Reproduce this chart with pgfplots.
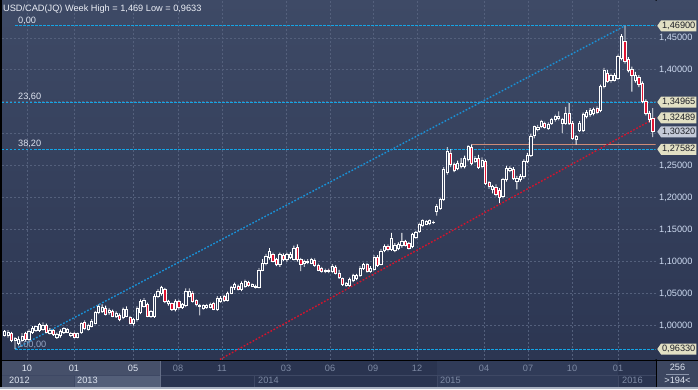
\documentclass[border=0pt]{standalone}
\usepackage{pgfplots}
\pgfplotsset{compat=1.18}
\usepackage{pgfplotstable}
\usepackage{fontspec}
\setmainfont{Liberation Sans}
\usetikzlibrary{shapes.symbols}

\definecolor{bgtop}{RGB}{62,74,102}
\definecolor{bgbot}{RGB}{44,54,82}
\definecolor{gridc}{RGB}{84,96,124}
\definecolor{fibc}{RGB}{20,165,230}
\definecolor{trendb}{RGB}{25,145,215}
\definecolor{trendr}{RGB}{210,20,45}
\definecolor{candler}{RGB}{225,20,50}
\definecolor{hollow}{RGB}{53,64,92}
\definecolor{salmon}{RGB}{205,140,120}
\definecolor{tagc}{RGB}{226,224,196}
\definecolor{tagb}{RGB}{196,202,216}
\definecolor{tagtext}{RGB}{30,32,40}
\definecolor{ticklab}{RGB}{205,218,240}
\definecolor{dimlab}{RGB}{125,137,163}
\definecolor{brightlab}{RGB}{222,228,240}
\definecolor{fiblow}{RGB}{150,165,195}
\definecolor{titlec}{RGB}{236,239,246}
\definecolor{band}{RGB}{42,52,80}
\definecolor{bandlight}{RGB}{70,80,106}
\definecolor{bandlight2}{RGB}{84,95,121}
\definecolor{band15}{RGB}{48,59,88}
\definecolor{bandline}{RGB}{62,72,100}
\definecolor{bandline2}{RGB}{100,110,135}
\definecolor{bottomstrip}{RGB}{168,176,192}
\definecolor{cornerbox}{RGB}{60,70,96}
\definecolor{cornerline}{RGB}{140,150,172}

\pgfplotsset{
  chartframe/.style={at={(2pt,29.5pt)}, anchor=south west, scale only axis,
    width=653.5pt, height=359.5pt,
    xmin=-6.743, xmax=180.775, ymin=0.946875, ymax=1.509375},
}

\pgfplotstableread{
w O H L C
-6 0.985 0.993 0.983 0.991
-5 0.984 0.993 0.981 0.990
-4 0.988 0.990 0.974 0.976
-3 0.976 0.982 0.9633 0.980
-2 0.972 0.983 0.969 0.978
-1 0.977 0.988 0.974 0.983
0 0.987 0.990 0.975 0.978
1 0.978 0.994 0.975 0.991
2 0.989 0.999 0.987 0.996
3 0.992 1.000 0.990 0.998
4 0.993 1.004 0.990 1.0016
5 0.994 1.005 0.992 1.001
6 1.000 1.003 0.988 0.990
7 0.988 0.996 0.986 0.993
8 0.992 0.994 0.984 0.986
9 0.981 0.989 0.979 0.986
10 0.984 0.994 0.981 0.991
11 0.989 0.997 0.987 0.995
12 0.990 0.996 0.988 0.994
13 0.984 0.990 0.982 0.988
14 0.988 0.990 0.980 0.982
15 0.982 0.989 0.980 0.987
16 0.989 1.005 0.987 1.003
17 1.005 1.008 0.993 0.995
18 0.994 1.003 0.992 1.000
19 0.999 1.010 0.997 1.007
20 1.004 1.023 1.002 1.020
21 1.020 1.033 1.018 1.030
22 1.022 1.033 1.020 1.029
23 1.027 1.031 1.016 1.018
24 1.020 1.027 1.017 1.024
25 1.022 1.025 1.013 1.015
26 1.015 1.022 1.012 1.019
27 1.016 1.019 1.007 1.010
28 1.012 1.028 1.010 1.025
29 1.015 1.030 1.013 1.026
30 1.012 1.015 1.002 1.004
31 1.004 1.012 1.000 1.009
32 1.010 1.030 1.006 1.027
33 1.020 1.041 1.018 1.038
34 1.030 1.043 1.028 1.040
35 1.033 1.036 1.013 1.015
36 1.015 1.024 1.012 1.022
37 1.015 1.049 1.012 1.046
38 1.045 1.057 1.043 1.053
39 1.050 1.062 1.047 1.059
40 1.056 1.059 1.035 1.038
41 1.034 1.040 1.031 1.038
42 1.034 1.036 1.023 1.025
43 1.025 1.041 1.022 1.038
44 1.038 1.040 1.025 1.028
45 1.028 1.035 1.026 1.033
46 1.031 1.058 1.029 1.053
47 1.046 1.058 1.044 1.053
48 1.051 1.054 1.036 1.038
49 1.039 1.041 1.030 1.033
50 1.030 1.034 1.016 1.032
51 1.027 1.033 1.025 1.031
52 1.028 1.034 1.026 1.031
53 1.029 1.036 1.027 1.033
54 1.034 1.037 1.024 1.026
55 1.025 1.046 1.023 1.043
56 1.038 1.046 1.036 1.043
57 1.046 1.048 1.037 1.040
58 1.040 1.053 1.038 1.050
59 1.051 1.062 1.049 1.059
60 1.059 1.067 1.056 1.064
61 1.061 1.064 1.055 1.057
62 1.057 1.069 1.054 1.066
63 1.061 1.072 1.059 1.069
64 1.068 1.070 1.061 1.063
65 1.062 1.066 1.060 1.064
66 1.060 1.064 1.058 1.062
67 1.060 1.090 1.058 1.087
68 1.087 1.104 1.085 1.098
69 1.098 1.112 1.094 1.108
70 1.106 1.121 1.103 1.116
71 1.111 1.114 1.099 1.101
72 1.103 1.106 1.093 1.095
73 1.095 1.114 1.092 1.111
74 1.110 1.113 1.101 1.103
75 1.103 1.114 1.100 1.111
76 1.106 1.115 1.104 1.111
77 1.104 1.125 1.102 1.120
78 1.122 1.127 1.100 1.103
79 1.104 1.106 1.085 1.095
80 1.098 1.103 1.092 1.100
81 1.099 1.104 1.096 1.101
82 1.098 1.106 1.096 1.103
83 1.102 1.105 1.092 1.094
84 1.094 1.097 1.085 1.087
85 1.090 1.092 1.083 1.085
86 1.084 1.089 1.082 1.087
87 1.087 1.089 1.082 1.084
88 1.084 1.096 1.082 1.093
89 1.091 1.094 1.080 1.082
90 1.082 1.087 1.073 1.075
91 1.073 1.075 1.062 1.064
92 1.063 1.068 1.061 1.066
93 1.063 1.075 1.061 1.072
94 1.070 1.081 1.068 1.078
95 1.073 1.081 1.071 1.078
96 1.078 1.093 1.076 1.090
97 1.089 1.098 1.087 1.095
98 1.095 1.098 1.083 1.085
99 1.085 1.093 1.083 1.090
100 1.088 1.110 1.086 1.107
101 1.107 1.110 1.092 1.094
102 1.096 1.120 1.094 1.116
103 1.118 1.127 1.115 1.124
104 1.124 1.127 1.116 1.119
105 1.119 1.145 1.117 1.137
106 1.118 1.129 1.115 1.126
107 1.121 1.130 1.118 1.127
108 1.1255 1.145 1.122 1.1318
109 1.131 1.134 1.124 1.126
110 1.128 1.131 1.119 1.121
111 1.124 1.145 1.121 1.142
112 1.138 1.148 1.136 1.146
113 1.147 1.161 1.145 1.159
114 1.157 1.166 1.154 1.164
115 1.159 1.165 1.157 1.163
116 1.160 1.166 1.157 1.164
117 1.161 1.164 1.159 1.162
118 1.179 1.190 1.172 1.186
119 1.184 1.200 1.181 1.197
120 1.197 1.248 1.195 1.244
121 1.240 1.279 1.236 1.272
122 1.270 1.276 1.248 1.252
123 1.252 1.255 1.240 1.243
124 1.246 1.258 1.243 1.254
125 1.249 1.262 1.246 1.254
126 1.249 1.266 1.246 1.262
127 1.260 1.282 1.257 1.280
128 1.278 1.2835 1.251 1.254
129 1.257 1.265 1.254 1.262
130 1.262 1.267 1.245 1.248
131 1.249 1.263 1.246 1.259
132 1.257 1.260 1.220 1.223
133 1.224 1.226 1.214 1.217
134 1.213 1.220 1.207 1.218
135 1.216 1.221 1.202 1.205
136 1.212 1.215 1.1917 1.200
137 1.202 1.231 1.199 1.228
138 1.228 1.250 1.225 1.246
139 1.243 1.249 1.240 1.246
140 1.244 1.248 1.228 1.231
141 1.226 1.234 1.213 1.231
142 1.228 1.237 1.225 1.233
143 1.233 1.260 1.230 1.257
144 1.257 1.270 1.254 1.267
145 1.267 1.300 1.264 1.296
146 1.298 1.313 1.293 1.311
147 1.307 1.314 1.304 1.310
148 1.311 1.322 1.309 1.319
149 1.316 1.319 1.308 1.310
150 1.309 1.318 1.306 1.314
151 1.317 1.325 1.314 1.322
152 1.322 1.330 1.319 1.328
153 1.324 1.335 1.321 1.327
154 1.317 1.325 1.301 1.322
155 1.317 1.342 1.314 1.332
156 1.332 1.348 1.314 1.317
157 1.317 1.320 1.291 1.293
158 1.292 1.298 1.283 1.296
159 1.306 1.320 1.303 1.317
160 1.306 1.333 1.303 1.330
161 1.327 1.337 1.324 1.333
162 1.330 1.340 1.327 1.337
163 1.332 1.341 1.329 1.338
164 1.340 1.343 1.331 1.333
165 1.337 1.377 1.334 1.374
166 1.374 1.403 1.371 1.400
167 1.395 1.400 1.380 1.382
168 1.383 1.394 1.380 1.391
169 1.384 1.395 1.382 1.392
170 1.387 1.424 1.384 1.421
171 1.418 1.456 1.415 1.452
172 1.445 1.469 1.410 1.413
173 1.416 1.420 1.396 1.400
174 1.401 1.405 1.366 1.392
175 1.384 1.397 1.380 1.392
176 1.388 1.392 1.373 1.377
177 1.379 1.382 1.348 1.351
178 1.351 1.354 1.329 1.332
179 1.332 1.336 1.318 1.322
180 1.324 1.340 1.295 1.3032
}\candles

\begin{document}
\begin{tikzpicture}[font=\fontsize{9.2}{11}\selectfont,
  tag/.style={signal, signal to=west, signal pointer angle=110, fill=tagc,
    anchor=west, inner xsep=1pt, inner ysep=1.3pt, minimum height=11pt,
    text=tagtext}]
% frame and backgrounds
\fill[black] (0,0) rectangle (698pt,389pt);
\shade[top color=bgtop,bottom color=bgbot] (2pt,29.5pt) rectangle (655.5pt,389pt);
\shade[top color=bgtop,bottom color=bgbot] (656.5pt,29.5pt) rectangle (698pt,389pt);
% time band
\fill[band] (2pt,2pt) rectangle (655.5pt,28.5pt);
\fill[bandlight] (2pt,14pt) rectangle (160pt,28.5pt);
\fill[bandlight] (2pt,2pt) rectangle (74pt,14pt);
\fill[bandlight2] (74pt,2pt) rectangle (160pt,14pt);
\fill[band15] (437pt,2pt) rectangle (618pt,28.5pt);
\draw[bandline, line width=0.6pt] (2pt,14pt) -- (655.5pt,14pt);
\foreach \xx in {74,254.5,437,618} \draw[bandline, line width=0.6pt] (\xx pt,2pt) -- (\xx pt,14pt);
\draw[bandline2, line width=0.6pt] (160pt,2pt) -- (160pt,28.5pt);
\fill[bottomstrip] (0,0) rectangle (698pt,2pt);
\fill[cornerbox] (656.5pt,2pt) rectangle (698pt,28.5pt);
\draw[cornerline, line width=0.6pt] (666pt,15pt) -- (689pt,15pt);
\node[text=brightlab] at (677.5pt,21.5pt) {256};
\node[text=brightlab] at (677.5pt,8.5pt) {>194<};
% month labels
\foreach \px/\lab/\col in {27/10/brightlab,74/01/brightlab,133/05/brightlab,178/08/dimlab,222/11/dimlab,286/03/dimlab,330/06/dimlab,373/09/dimlab,417/12/dimlab,484/04/dimlab,528/07/dimlab,572/10/dimlab,618/01/dimlab}
  \node[text=\col, inner sep=0pt] at (\px pt,20.5pt) {\lab};
\foreach \px/\lab/\col in {9/2012/brightlab,77/2013/brightlab,258/2014/dimlab,440/2015/dimlab,622/2016/dimlab}
  \node[text=\col, inner sep=0pt, anchor=west] at (\px pt,8.5pt) {\lab};

% ---------- axis 1: grid, levels, trend lines ----------
\begin{axis}[chartframe,
  axis line style={draw=none}, major tick length=0pt,
  xtick={0.43,13.92,30.85,43.76,56.38,74.75,87.37,99.71,112.34,131.56,144.19,156.81,170.01},
  xticklabel={\hbox{}},
  ytick={1.00,1.05,1.10,1.15,1.20,1.25,1.40,1.45},
  extra y ticks={1.30,1.35},
  extra y tick labels={\hbox{},\hbox{}},
  extra y tick style={grid=major},
  yticklabel pos=right,
  yticklabel style={anchor=west, inner sep=0pt, xshift=3.5pt, text=ticklab},
  tick label style={font=\fontsize{9.2}{11}\selectfont},
  /pgf/number format/.cd, fixed, fixed zerofill, precision=5, use comma, assume math mode=true,
  /pgfplots/.cd,
  xmajorgrids, ymajorgrids,
  major grid style={gridc, line width=0.8pt, dash pattern=on 2pt off 2pt},
]
\addplot[fibc, line width=0.9pt, dash pattern=on 2.5pt off 1.5pt, forget plot] coordinates {(-3,1.469) (180.775,1.469)};
\addplot[fibc, line width=0.9pt, dash pattern=on 2.5pt off 1.5pt, forget plot] coordinates {(-6.743,1.34965) (180.775,1.34965)};
\addplot[fibc, line width=0.9pt, dash pattern=on 2.5pt off 1.5pt, forget plot] coordinates {(-6.743,1.27582) (180.775,1.27582)};
\addplot[fibc, line width=0.9pt, dash pattern=on 2.5pt off 1.5pt, forget plot] coordinates {(-3,0.9633) (180.775,0.9633)};
\addplot[salmon, line width=1.6pt, forget plot] coordinates {(128,1.2835) (180.775,1.2835)};
\addplot[trendb, line width=1.4pt, dash pattern=on 1.7pt off 1.7pt, forget plot] coordinates {(-3,0.9633) (172,1.469)};
\addplot[trendr, line width=1.4pt, dash pattern=on 1.7pt off 1.7pt, forget plot] coordinates {(55.8,0.947) (180.775,1.32489)};
\end{axis}

% ---------- axis 2: wicks (stacked bars: hidden low, visible high-low) ----------
\begin{axis}[chartframe, hide axis, ybar stacked, bar width=0.85pt, bar shift=0pt]
\addplot[draw=none, fill=none, forget plot] table[x=w, y=L] {\candles};
\addplot[draw=none, fill=white, forget plot] table[x=w, y expr={\thisrow{H}-\thisrow{L}}] {\candles};
\end{axis}

% ---------- axis 3: bodies, labels, tags ----------
\begin{axis}[chartframe, hide axis, ybar stacked, bar width=2.2pt, bar shift=0pt, clip mode=individual]
\addplot[draw=none, fill=none, forget plot] table[x=w, y expr={min(\thisrow{O},\thisrow{C})}] {\candles};
\addplot[draw=white, line width=0.8pt, fill=hollow, forget plot] table[x=w, y expr={max(\thisrow{C}-\thisrow{O},0)}] {\candles};
\addplot[draw=white, line width=0.8pt, fill=candler, forget plot] table[x=w, y expr={max(\thisrow{O}-\thisrow{C},0)}] {\candles};

% fib labels
\node[anchor=base west, inner sep=0pt, text=brightlab] at ([yshift=2.5pt]axis cs:-2.15,1.469) {0,00};
\node[anchor=base west, inner sep=0pt, text=brightlab] at ([yshift=2.5pt]axis cs:-2.15,1.34965) {23,60};
\node[anchor=base west, inner sep=0pt, text=brightlab] at ([yshift=2.5pt]axis cs:-2.15,1.27582) {38,20};
\node[anchor=base west, inner sep=0pt, text=fiblow] at ([yshift=1.5pt]axis cs:-2.15,0.9633) {100,00};
% price tags
\node[tag] at ([xshift=1.5pt]axis cs:180.775,1.469) {1,46900};
\node[tag] at ([xshift=1.5pt]axis cs:180.775,1.34965) {1,34965};
\node[tag] at ([xshift=1.5pt]axis cs:180.775,1.32489) {1,32489};
\node[tag, fill=tagb] at ([xshift=1.5pt]axis cs:180.775,1.3032) {1,30320};
\node[tag] at ([xshift=1.5pt]axis cs:180.775,1.27582) {1,27582};
\node[tag] at ([xshift=1.5pt]axis cs:180.775,0.9633) {0,96330};
\end{axis}
% title
\node[anchor=base west, inner sep=0pt, text=titlec] at (3pt,377.8pt) {USD/CAD(JQ) Week High = 1,469 Low = 0,9633};
\pgfresetboundingbox
\path (0,0) rectangle (698pt,389pt);
\end{tikzpicture}
\end{document}
